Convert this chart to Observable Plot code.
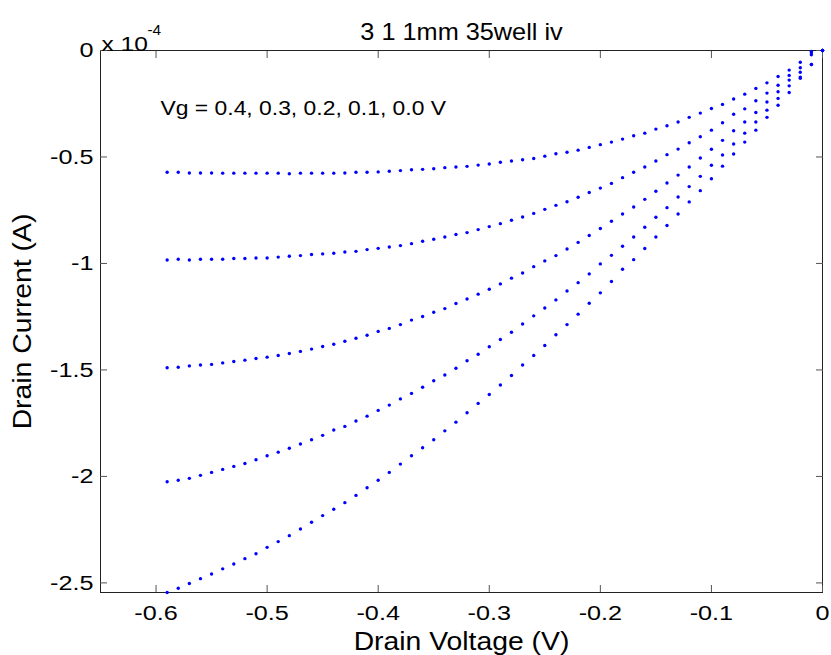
<!DOCTYPE html>
<html>
<head>
<meta charset="utf-8">
<script src="https://cdn.jsdelivr.net/npm/d3@7"></script>
<script src="https://cdn.jsdelivr.net/npm/@observablehq/plot@0.6"></script>
<style>
  html, body { margin: 0; padding: 0; background: #fff; }
  #chart svg { display: block; }
</style>
</head>
<body>
<div id="chart"></div>
<script>
// Drain voltage (V)
const drainVoltage = [
  -0.59, -0.58, -0.57, -0.56, -0.55, -0.54, -0.53, -0.52, -0.51, -0.50,
  -0.49, -0.48, -0.47, -0.46, -0.45, -0.44, -0.43, -0.42, -0.41, -0.40,
  -0.39, -0.38, -0.37, -0.36, -0.35, -0.34, -0.33, -0.32, -0.31, -0.30,
  -0.29, -0.28, -0.27, -0.26, -0.25, -0.24, -0.23, -0.22, -0.21, -0.20,
  -0.19, -0.18, -0.17, -0.16, -0.15, -0.14, -0.13, -0.12, -0.11, -0.10,
  -0.09, -0.08, -0.07, -0.06, -0.05, -0.04, -0.03, -0.02, -0.01, 0.00
];
// Drain current, in units of 1e-4 A, one array per gate voltage
const currentVg04 = [
  -0.572,-0.572,-0.575,-0.575,-0.575,-0.576,-0.576,-0.576,-0.576,-0.576,
  -0.576,-0.579,-0.576,-0.576,-0.576,-0.576,-0.575,-0.572,-0.572,-0.570,
  -0.567,-0.564,-0.560,-0.558,-0.555,-0.550,-0.547,-0.544,-0.538,-0.533,
  -0.525,-0.519,-0.513,-0.507,-0.496,-0.485,-0.478,-0.468,-0.455,-0.442,
  -0.430,-0.416,-0.400,-0.388,-0.369,-0.353,-0.336,-0.314,-0.294,-0.272,
  -0.253,-0.228,-0.205,-0.178,-0.152,-0.122,-0.092,-0.055,-0.005, 0
];
const currentVg03 = [
  -0.984,-0.980,-0.984,-0.980,-0.980,-0.980,-0.977,-0.977,-0.974,-0.974,
  -0.970,-0.966,-0.963,-0.958,-0.955,-0.952,-0.946,-0.943,-0.935,-0.929,
  -0.923,-0.916,-0.907,-0.896,-0.886,-0.876,-0.864,-0.855,-0.841,-0.827,
  -0.813,-0.797,-0.782,-0.765,-0.746,-0.727,-0.710,-0.689,-0.667,-0.646,
  -0.624,-0.597,-0.572,-0.547,-0.519,-0.489,-0.463,-0.433,-0.405,-0.374,
  -0.339,-0.299,-0.274,-0.236,-0.200,-0.163,-0.117,-0.081,-0.011, 0
];
const currentVg02 = [
  -1.490,-1.487,-1.481,-1.477,-1.474,-1.467,-1.460,-1.454,-1.446,-1.440,
  -1.432,-1.423,-1.413,-1.402,-1.390,-1.379,-1.365,-1.351,-1.337,-1.319,
  -1.305,-1.287,-1.266,-1.249,-1.229,-1.212,-1.188,-1.167,-1.144,-1.121,
  -1.096,-1.069,-1.045,-1.015,-0.988,-0.963,-0.932,-0.901,-0.869,-0.836,
  -0.802,-0.768,-0.735,-0.699,-0.661,-0.622,-0.585,-0.547,-0.505,-0.464,
  -0.422,-0.377,-0.336,-0.291,-0.242,-0.194,-0.139,-0.102,-0.020, 0
];
const currentVg01 = [
  -2.025,-2.018,-2.009,-1.995,-1.981,-1.967,-1.953,-1.939,-1.922,-1.903,
  -1.886,-1.868,-1.848,-1.828,-1.807,-1.782,-1.765,-1.740,-1.717,-1.690,
  -1.665,-1.636,-1.610,-1.581,-1.551,-1.524,-1.492,-1.457,-1.426,-1.391,
  -1.357,-1.323,-1.284,-1.246,-1.209,-1.171,-1.129,-1.090,-1.049,-1.002,
  -0.962,-0.919,-0.876,-0.830,-0.783,-0.738,-0.688,-0.639,-0.591,-0.539,
  -0.491,-0.439,-0.388,-0.336,-0.280,-0.225,-0.166,-0.125,-0.066, 0
];
const currentVg00 = [
  -2.545,-2.525,-2.503,-2.480,-2.458,-2.434,-2.411,-2.386,-2.363,-2.333,
  -2.306,-2.278,-2.247,-2.215,-2.184,-2.154,-2.123,-2.089,-2.053,-2.018,
  -1.981,-1.942,-1.903,-1.865,-1.828,-1.786,-1.745,-1.701,-1.657,-1.615,
  -1.571,-1.526,-1.477,-1.432,-1.385,-1.335,-1.287,-1.238,-1.187,-1.138,
  -1.085,-1.027,-0.982,-0.930,-0.876,-0.822,-0.768,-0.711,-0.658,-0.602,
  -0.543,-0.486,-0.430,-0.374,-0.314,-0.257,-0.197,-0.130,-0.066, 0
];
const gateVoltages = ["0.4", "0.3", "0.2", "0.1", "0.0"];
const xTicks = [-0.6, -0.5, -0.4, -0.3, -0.2, -0.1, 0];
const yTicks = [0, -0.5, -1, -1.5, -2, -2.5];
const titleText = "3 1 1mm 35well iv";
const annotationText = "Vg = 0.4, 0.3, 0.2, 0.1, 0.0 V";
const xLabel = "Drain Voltage (V)";
const yLabel = "Drain Current (A)";

const seriesList = [currentVg04, currentVg03, currentVg02, currentVg01, currentVg00];
const points = [];
seriesList.forEach((vals, s) => {
  vals.forEach((v, i) => points.push({vg: gateVoltages[s], vd: drainVoltage[i], id: v}));
});

const fmt = d => String(d);
const FONT = "'Liberation Sans', Arial, Helvetica, sans-serif";

const chart = Plot.plot({
  width: 831,
  height: 655,
  marginLeft: 100,
  marginRight: 9,
  marginTop: 50,
  marginBottom: 63,
  style: {fontFamily: FONT, fontSize: "21px", color: "#000", background: "#fff", overflow: "visible"},
  x: {domain: [-0.65, 0]},
  y: {domain: [-2.545, 0]},
  marks: [
    Plot.frame({stroke: "#222", strokeWidth: 1}),
    // inward ticks on all four sides (MATLAB style box)
    Plot.axisX(xTicks, {anchor: "bottom", tickSize: 7, dy: -7, tickFormat: () => "", label: null, stroke: "#555"}),
    Plot.axisX(xTicks, {anchor: "top", tickSize: 7, dy: 7, tickFormat: () => "", label: null, stroke: "#555"}),
    Plot.axisY(yTicks, {anchor: "left", tickSize: 7, dx: 7, tickFormat: () => "", label: null, stroke: "#555"}),
    Plot.axisY(yTicks, {anchor: "right", tickSize: 7, dx: -7, tickFormat: () => "", label: null, stroke: "#555"}),
    // tick labels and axis titles
    Plot.axisX(xTicks, {anchor: "bottom", tickSize: 0, tickPadding: 13, tickFormat: fmt, fontSize: 21,
      label: xLabel, labelAnchor: "center", labelArrow: "none", labelOffset: 57}),
    Plot.axisY(yTicks, {anchor: "left", tickSize: 0, tickPadding: 7, tickFormat: fmt, fontSize: 21,
      label: yLabel, labelAnchor: "center", labelArrow: "none", labelOffset: 88}),
    Plot.dot(points, {x: "vd", y: "id", r: 1.7, fill: "#0000ff", stroke: null}),
    Plot.text([titleText], {frameAnchor: "top", dy: -27, fontSize: 23, fill: "#000"}),
    Plot.text(["x 10"], {frameAnchor: "top-left", textAnchor: "start", dy: -14, dx: 1, fontSize: 21, fill: "#000"}),
    Plot.text(["-4"], {frameAnchor: "top-left", textAnchor: "start", dy: -25, dx: 47, fontSize: 14, fill: "#000"}),
    Plot.text([annotationText], {frameAnchor: "top-left", textAnchor: "start", dx: 60, dy: 50, fontSize: 21, fill: "#000"})
  ]
});

// MATLAB renders its Helvetica slightly wide: size and stretch each text horizontally about its anchor
function fit(t, fs, sx) {
  t.style.fontSize = fs + "px";
  const x = +t.getAttribute("x") || 0, y = +t.getAttribute("y") || 0;
  const tr = t.getAttribute("transform") || "";
  t.setAttribute("transform", `${tr} translate(${x},${y}) scale(${sx},1) translate(${-x},${-y})`);
}
chart.querySelectorAll("text").forEach(t => {
  const g = t.closest("g[aria-label]");
  const role = g ? g.getAttribute("aria-label") : "";
  const s = t.textContent;
  if (role === "x-axis tick label" || role === "y-axis tick label") fit(t, 21, 1.2);
  else if (role === "x-axis label" || role === "y-axis label" || s === xLabel || s === yLabel) fit(t, 26, 1.09);
  else if (s === titleText) fit(t, 23, 1.1);
  else if (s === annotationText) fit(t, 21, 1.09);
  else if (s === "x 10") fit(t, 21, 1.17);
  else if (s === "-4") fit(t, 14, 1.1);
});
document.getElementById("chart").appendChild(chart);
</script>
</body>
</html>
